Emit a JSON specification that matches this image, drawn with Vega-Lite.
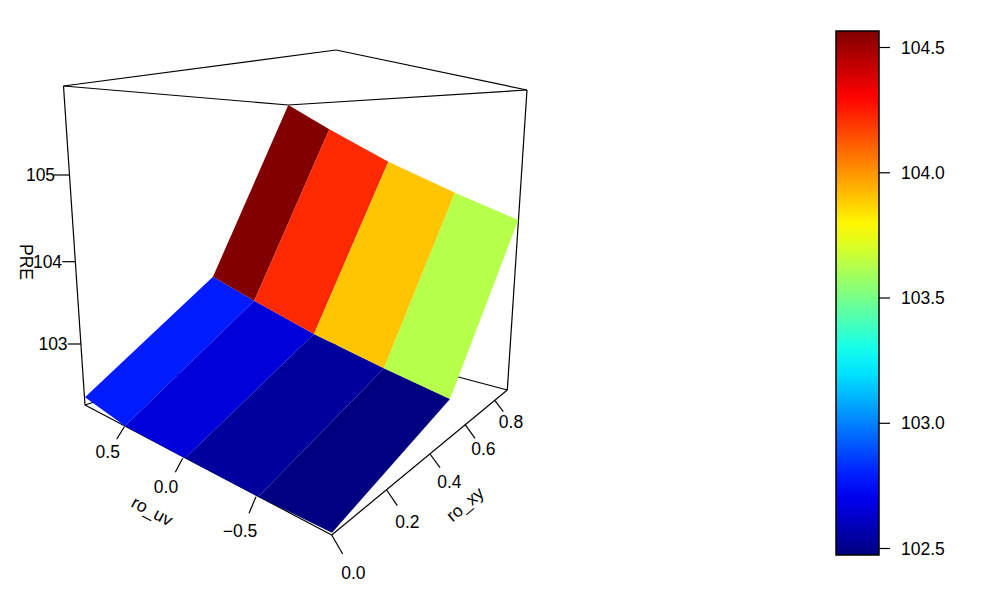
{
"$schema":"https://vega.github.io/schema/vega-lite/v6.json",
"width":981,"height":596,"autosize":{"type":"fit","contains":"padding"},"padding":0,
"background":"white","config":{"view":{"stroke":null}},
"datasets":{
"box":[
{"edge":"left","sx":63.5,"sy":86,"ex":85,"ey":405},
{"edge":"right","sx":527,"sy":90,"ex":507.3,"ey":390},
{"edge":"top-a","sx":63.5,"sy":86,"ex":336,"ey":50},
{"edge":"top-b","sx":336,"sy":50,"ex":527,"ey":90},
{"edge":"top-c","sx":63.5,"sy":86,"ex":288.3,"ey":105},
{"edge":"top-d","sx":288.3,"sy":105,"ex":527,"ey":90},
{"edge":"bottom-a","sx":85,"sy":405,"ex":331.7,"ey":535},
{"edge":"bottom-b","sx":331.7,"sy":535,"ex":507.3,"ey":390},
{"edge":"back-a","sx":507.3,"sy":390,"ex":300,"ey":335},
{"edge":"back-b","sx":85,"sy":405,"ex":300,"ey":335},
{"edge":"tick PRE 105","sx":54,"sy":175,"ex":69.5,"ey":175},
{"edge":"tick PRE 104","sx":62.3,"sy":261.7,"ex":75.3,"ey":261.7},
{"edge":"tick PRE 103","sx":67.7,"sy":344,"ex":81,"ey":344},
{"edge":"tick uv 0.5","sx":124.3,"sy":426.7,"ex":116.7,"ey":439.3},
{"edge":"tick uv 0","sx":182.7,"sy":458.3,"ex":175.3,"ey":472.3},
{"edge":"tick uv -0.5","sx":256,"sy":496.7,"ex":249,"ey":513.3},
{"edge":"tick xy 0","sx":331.7,"sy":535,"ex":342.7,"ey":554},
{"edge":"tick xy 0.2","sx":386.7,"sy":490,"ex":397.3,"ey":505.7},
{"edge":"tick xy 0.4","sx":430,"sy":454,"ex":440,"ey":467.7},
{"edge":"tick xy 0.6","sx":465,"sy":424.3,"ex":475,"ey":438.3},
{"edge":"tick xy 0.8","sx":495,"sy":400.7,"ex":503.3,"ey":411.7},
{"edge":"bar 104.5","sx":879,"sy":47.5,"ex":890,"ey":47.5},
{"edge":"bar 104.0","sx":879,"sy":172.8,"ex":890,"ey":172.8},
{"edge":"bar 103.5","sx":879,"sy":298,"ex":890,"ey":298},
{"edge":"bar 103.0","sx":879,"sy":423.3,"ex":890,"ey":423.3},
{"edge":"bar 102.5","sx":879,"sy":548.5,"ex":890,"ey":548.5}
],
"surface":[
{"cell":"a1","i":1,"sx":85,"sy":397.3,"PRE":102.79},{"cell":"a1","i":2,"sx":125,"sy":426,"PRE":102.79},{"cell":"a1","i":3,"sx":254.3,"sy":300.7,"PRE":102.79},{"cell":"a1","i":4,"sx":213,"sy":276.7,"PRE":102.79},{"cell":"a1","i":5,"sx":85,"sy":397.3,"PRE":102.79},
{"cell":"a2","i":1,"sx":125,"sy":426,"PRE":102.66},{"cell":"a2","i":2,"sx":185,"sy":458.3,"PRE":102.66},{"cell":"a2","i":3,"sx":314,"sy":334,"PRE":102.66},{"cell":"a2","i":4,"sx":254.3,"sy":300.7,"PRE":102.66},{"cell":"a2","i":5,"sx":125,"sy":426,"PRE":102.66},
{"cell":"a3","i":1,"sx":185,"sy":458.3,"PRE":102.535},{"cell":"a3","i":2,"sx":258.3,"sy":496.7,"PRE":102.535},{"cell":"a3","i":3,"sx":384,"sy":368.3,"PRE":102.535},{"cell":"a3","i":4,"sx":314,"sy":334,"PRE":102.535},{"cell":"a3","i":5,"sx":185,"sy":458.3,"PRE":102.535},
{"cell":"a4","i":1,"sx":258.3,"sy":496.7,"PRE":102.475},{"cell":"a4","i":2,"sx":332,"sy":532.7,"PRE":102.475},{"cell":"a4","i":3,"sx":450,"sy":399,"PRE":102.475},{"cell":"a4","i":4,"sx":384,"sy":368.3,"PRE":102.475},{"cell":"a4","i":5,"sx":258.3,"sy":496.7,"PRE":102.475},
{"cell":"b1","i":1,"sx":213,"sy":276.7,"PRE":104.56},{"cell":"b1","i":2,"sx":254.3,"sy":300.7,"PRE":104.56},{"cell":"b1","i":3,"sx":329.3,"sy":129.3,"PRE":104.56},{"cell":"b1","i":4,"sx":288.3,"sy":105,"PRE":104.56},{"cell":"b1","i":5,"sx":213,"sy":276.7,"PRE":104.56},
{"cell":"b2","i":1,"sx":254.3,"sy":300.7,"PRE":104.22},{"cell":"b2","i":2,"sx":314,"sy":334,"PRE":104.22},{"cell":"b2","i":3,"sx":388.3,"sy":161.7,"PRE":104.22},{"cell":"b2","i":4,"sx":329.3,"sy":129.3,"PRE":104.22},{"cell":"b2","i":5,"sx":254.3,"sy":300.7,"PRE":104.22},
{"cell":"b3","i":1,"sx":314,"sy":334,"PRE":103.9},{"cell":"b3","i":2,"sx":384,"sy":368.3,"PRE":103.9},{"cell":"b3","i":3,"sx":455,"sy":192.7,"PRE":103.9},{"cell":"b3","i":4,"sx":388.3,"sy":161.7,"PRE":103.9},{"cell":"b3","i":5,"sx":314,"sy":334,"PRE":103.9},
{"cell":"b4","i":1,"sx":384,"sy":368.3,"PRE":103.63},{"cell":"b4","i":2,"sx":450,"sy":399,"PRE":103.63},{"cell":"b4","i":3,"sx":518.3,"sy":220,"PRE":103.63},{"cell":"b4","i":4,"sx":455,"sy":192.7,"PRE":103.63},{"cell":"b4","i":5,"sx":384,"sy":368.3,"PRE":103.63}
],
"labels":[
{"label":"105","sx":40.5,"sy":176},{"label":"104","sx":47.5,"sy":263},{"label":"103","sx":53,"sy":345},
{"label":"0.5","sx":107.7,"sy":452.5},{"label":"0.0","sx":166,"sy":488},{"label":"−0.5","sx":240,"sy":532},
{"label":"0.0","sx":353.3,"sy":574},{"label":"0.2","sx":407.3,"sy":522.5},{"label":"0.4","sx":449.3,"sy":483},{"label":"0.6","sx":483.3,"sy":449.5},{"label":"0.8","sx":511,"sy":422.5}
]
},
"encoding":{
"x":{"field":"sx","type":"quantitative","axis":null,"scale":{"domain":[0,981],"nice":false,"zero":false}},
"y":{"field":"sy","type":"quantitative","axis":null,"scale":{"domain":[596,0],"nice":false,"zero":false}}
},
"layer":[
{"data":{"name":"box"},"mark":{"type":"rule","color":"black","strokeWidth":1.2},
 "encoding":{"x2":{"field":"ex"},"y2":{"field":"ey"}}},
{"data":{"name":"surface"},"mark":{"type":"line","strokeWidth":0,"interpolate":"linear"},
 "encoding":{
  "order":{"field":"i","type":"quantitative"},
  "detail":{"field":"cell"},
  "fill":{"field":"PRE","type":"quantitative",
   "scale":{"domain":[102.473,104.565],"interpolate":"rgb","range":["#000080","#0000FF","#0080FF","#00FFFF","#80FF80","#FFFF00","#FF8000","#FF0000","#800000"]},
   "legend":{"orient":"none","legendX":836,"legendY":31,"direction":"vertical","title":null,"gradientLength":524,"gradientThickness":43,"gradientStrokeColor":"black","gradientStrokeWidth":1.5,"labelOffset":22,"labelFontSize":17.5,"labelFont":"Liberation Sans","labelColor":"black","values":[102.5,103,103.5,104,104.5],"format":".1f","labelOverlap":false,"encode":{"labels":{"update":{"dy":{"value":1.5}}}}}}
 }},
{"data":{"name":"labels"},"mark":{"type":"text","font":"Liberation Sans","fontSize":17.5,"color":"black","align":"center","baseline":"middle"},
 "encoding":{"text":{"field":"label"}}},
{"data":{"values":[{"label":"PRE","sx":25,"sy":262}]},"mark":{"type":"text","font":"Liberation Sans","fontSize":17.5,"color":"black","align":"center","baseline":"middle","angle":90},
 "encoding":{"text":{"field":"label"}}},
{"data":{"values":[{"label":"ro_uv","sx":151.7,"sy":512}]},"mark":{"type":"text","font":"Liberation Sans","fontSize":17.5,"color":"black","align":"center","baseline":"middle","angle":28},
 "encoding":{"text":{"field":"label"}}},
{"data":{"values":[{"label":"ro_xy","sx":465.7,"sy":505}]},"mark":{"type":"text","font":"Liberation Sans","fontSize":17.5,"color":"black","align":"center","baseline":"middle","angle":-40},
 "encoding":{"text":{"field":"label"}}}
]
}
